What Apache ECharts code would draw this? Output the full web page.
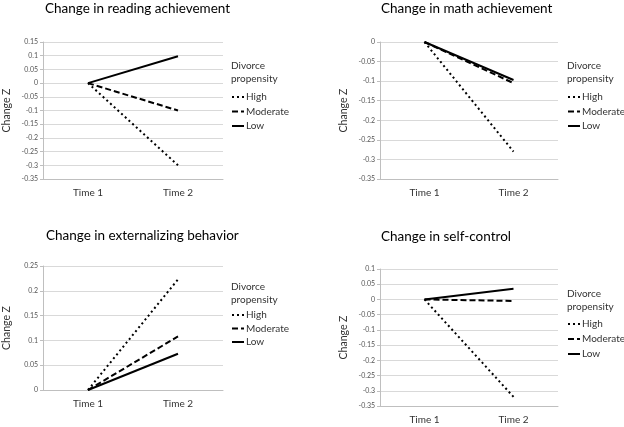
<!DOCTYPE html>
<html><head><meta charset="utf-8">
<script src="https://cdn.jsdelivr.net/npm/echarts@6/dist/echarts.min.js"></script>
<style>html,body{margin:0;padding:0;background:#fff}#c{width:624px;height:427px}</style>
</head><body><div id="c"></div>
<script>
const categories = ['Time 1', 'Time 2'];
const legendNames = ['High', 'Moderate', 'Low'];
const panelTitles = ['Change in reading achievement', 'Change in math achievement', 'Change in externalizing behavior', 'Change in self-control'];
const readingHigh = [0, -0.3];
const readingModerate = [0, -0.1];
const readingLow = [0, 0.098];
const mathHigh = [0, -0.28];
const mathModerate = [0, -0.105];
const mathLow = [0, -0.097];
const extHigh = [0, 0.223];
const extModerate = [0, 0.108];
const extLow = [0, 0.073];
const selfHigh = [0, -0.32];
const selfModerate = [0, -0.005];
const selfLow = [0, 0.035];
const yRanges = [[-0.35, 0.15], [-0.35, 0], [0, 0.25], [-0.35, 0.1]];

const panelData = [
  [readingHigh, readingModerate, readingLow],
  [mathHigh, mathModerate, mathLow],
  [extHigh, extModerate, extLow],
  [selfHigh, selfModerate, selfLow]
];
const FONT = 'Lato';
const grids = [
  {left: 43, top: 42, width: 180, height: 137},
  {left: 380, top: 42, width: 178, height: 137},
  {left: 43, top: 266, width: 180, height: 124},
  {left: 380, top: 269, width: 178, height: 137}
];
const titlePos = [[45, 2], [381, 2], [46, 229], [381, 230]];
const legendPos = [[231, 92, 4.5], [567, 92, 4.5], [231, 310, 3.5], [567, 319, 5]];
const headPos = [[231, 60], [567, 60], [231, 281], [567, 288]];
const lineTypes = [[2, 3], [6, 3], 'solid'];

const option = {
  animation: false,
  title: [], grid: [], xAxis: [], yAxis: [], series: [], legend: [], graphic: []
};
grids.forEach((g, i) => {
  option.grid.push(g);
  option.title.push({left: titlePos[i][0], top: titlePos[i][1], text: panelTitles[i], padding: 0,
    textStyle: {fontFamily: FONT, fontSize: 13.5, fontWeight: 'normal', color: '#000'}});
  option.xAxis.push({type: 'category', gridIndex: i, data: categories, boundaryGap: true,
    axisLine: {onZero: false, lineStyle: {color: '#bfbfbf'}}, axisTick: {show: false},
    axisLabel: {fontFamily: FONT, fontSize: 10, color: '#333', margin: 9}});
  option.yAxis.push({type: 'value', gridIndex: i, min: yRanges[i][0], max: yRanges[i][1], interval: 0.05,
    name: 'Change Z', nameLocation: 'middle', nameGap: 31, nameRotate: 90,
    nameTextStyle: {fontFamily: FONT, fontSize: 10.5, color: '#333'},
    axisLine: {show: true, lineStyle: {color: '#bfbfbf'}},
    axisTick: {show: true, length: 3, lineStyle: {color: '#bfbfbf'}},
    splitLine: {lineStyle: {color: '#d9d9d9'}},
    axisLabel: {fontFamily: FONT, fontSize: 7, color: '#555', margin: 5,
      formatter: v => String(Number(v.toFixed(2)))}});
  panelData[i].forEach((d, k) => {
    option.series.push({type: 'line', name: legendNames[k], xAxisIndex: i, yAxisIndex: i, data: d,
      symbol: 'none', lineStyle: {color: '#000', width: 2, type: lineTypes[k]}, itemStyle: {color: '#000'}});
  });
  option.legend.push({orient: 'vertical', left: legendPos[i][0], top: legendPos[i][1], itemGap: legendPos[i][2],
    itemWidth: 12, itemHeight: 11, data: legendNames, selectedMode: false,
    itemStyle: {opacity: 0},
    textStyle: {fontFamily: FONT, fontSize: 10, color: '#333', padding: [0, 0, 0, -3]}, padding: 0});
  option.graphic.push({type: 'text', left: headPos[i][0], top: headPos[i][1],
    style: {text: 'Divorce\npropensity', fontFamily: FONT, fontSize: 10, lineHeight: 12.5, fill: '#333'}});
});
const chart = echarts.init(document.getElementById('c'), null, {renderer: 'canvas'});
chart.setOption(option);
</script></body></html>
